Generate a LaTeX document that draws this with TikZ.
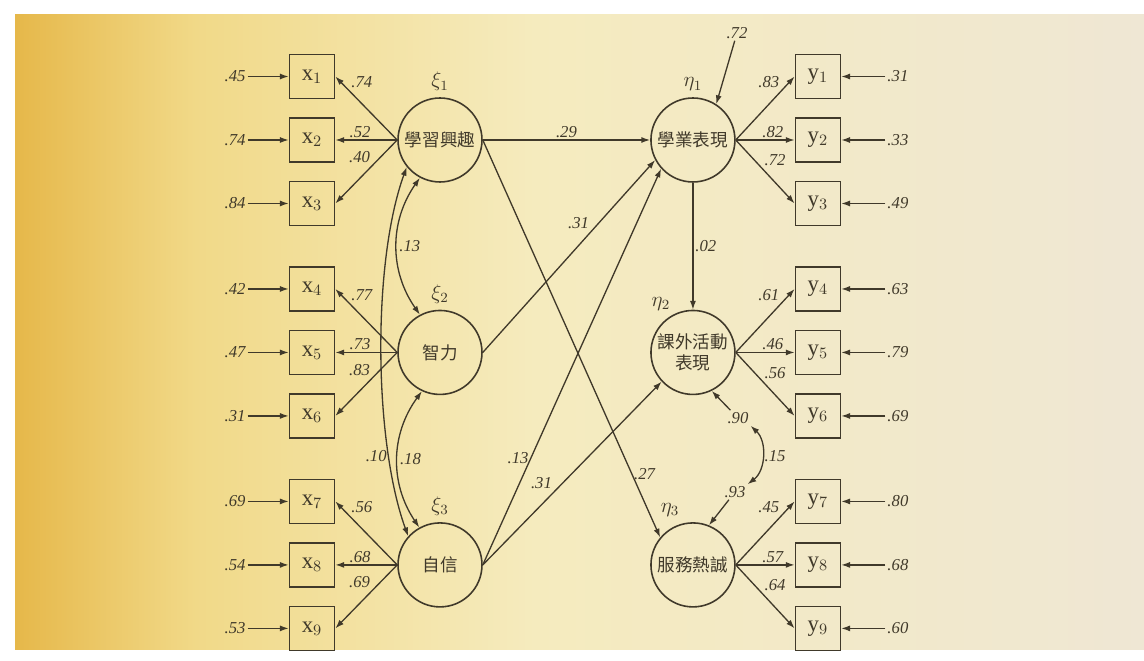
\documentclass[tikz,border=0pt]{standalone}
\usepackage{fontspec}
\setmainfont{Liberation Serif}
\newfontfamily\cjk{Noto Sans CJK TC}
\usepackage{tikz}
\usetikzlibrary{positioning}
\usetikzlibrary{arrows.meta}
\usetikzlibrary{calc}

\definecolor{ink}{HTML}{40392A}
\definecolor{paperL}{HTML}{E6B84A}
\definecolor{paperA}{HTML}{F1D988}
\definecolor{paperM}{HTML}{F5EBBE}
\definecolor{paperR}{HTML}{EFE7D4}
\pgfdeclarehorizontalshading{paper}{100bp}{color(0bp)=(paperL); color(25bp)=(paperL); color(33bp)=(paperA); color(48bp)=(paperM); color(75bp)=(paperR); color(100bp)=(paperR)}

\tikzset{
  latent/.style={circle,draw=ink,line width=0.9pt,minimum size=1.68cm,inner sep=0pt,align=center,
    text=ink,font=\cjk\fontsize{10}{12}\selectfont},
  obs/.style={rectangle,draw=ink,line width=0.9pt,minimum width=0.9cm,minimum height=0.88cm,inner sep=0pt,
    text=ink,font=\fontsize{13}{14}\selectfont},
  coef/.style={inner sep=1pt,text=ink,font=\itshape\fontsize{9.5}{10}\selectfont},
  conn/.style={draw=ink,line width=0.75pt,-{Latex[length=5pt,width=3.4pt]}},
  both/.style={draw=ink,line width=0.75pt,{Latex[length=5pt,width=3.4pt]}-{Latex[length=5pt,width=3.4pt]}},
  greek/.style={label distance=0pt,text=ink,font=\fontsize{12}{13}\selectfont}
}

\begin{document}
\begin{tikzpicture}[x=0.02cm, y=-0.02cm, node distance=1.27cm and 2.56cm, on grid]
\useasboundingbox (0,0) rectangle (1144,661);
\fill[white] (0,0) rectangle (1144,661);
\shade[shading=paper] (15,15) rectangle (1144,650);

\node[latent,label={[greek]above:$\xi_1$}] (xi1) at (440,140) {學習興趣};
\node[latent,below=4.25cm of xi1,label={[greek]above:$\xi_2$}] (xi2) {智力};
\node[latent,below=4.25cm of xi2,label={[greek]above:$\xi_3$}] (xi3) {自信};
\node[latent,right=5.06cm of xi1,label={[greek]above:$\eta_1$}] (eta1) {學業表現};
\node[latent,below=4.25cm of eta1,label={[greek,label distance=-2pt]115:$\eta_2$}] (eta2) {課外活動\\表現};
\node[latent,below=4.25cm of eta2,label={[greek]100:$\eta_3$}] (eta3) {服務熱誠};

\node[obs,left=of xi1] (x2) {$\mathrm{x}_2$};
\node[obs,above=of x2] (x1) {$\mathrm{x}_1$};
\node[obs,below=of x2] (x3) {$\mathrm{x}_3$};
\node[obs,left=of xi2] (x5) {$\mathrm{x}_5$};
\node[obs,above=of x5] (x4) {$\mathrm{x}_4$};
\node[obs,below=of x5] (x6) {$\mathrm{x}_6$};
\node[obs,left=of xi3] (x8) {$\mathrm{x}_8$};
\node[obs,above=of x8] (x7) {$\mathrm{x}_7$};
\node[obs,below=of x8] (x9) {$\mathrm{x}_9$};

\node[obs,right=2.5cm of eta1] (y2) {$\mathrm{y}_2$};
\node[obs,above=of y2] (y1) {$\mathrm{y}_1$};
\node[obs,below=of y2] (y3) {$\mathrm{y}_3$};
\node[obs,right=2.5cm of eta2] (y5) {$\mathrm{y}_5$};
\node[obs,above=of y5] (y4) {$\mathrm{y}_4$};
\node[obs,below=of y5] (y6) {$\mathrm{y}_6$};
\node[obs,right=2.5cm of eta3] (y8) {$\mathrm{y}_8$};
\node[obs,above=of y8] (y7) {$\mathrm{y}_7$};
\node[obs,below=of y8] (y9) {$\mathrm{y}_9$};

\node[coef,left=1.54cm of x1] (ex1) {.45};
\node[coef,left=1.54cm of x2] (ex2) {.74};
\node[coef,left=1.54cm of x3] (ex3) {.84};
\node[coef,left=1.54cm of x4] (ex4) {.42};
\node[coef,left=1.54cm of x5] (ex5) {.47};
\node[coef,left=1.54cm of x6] (ex6) {.31};
\node[coef,left=1.54cm of x7] (ex7) {.69};
\node[coef,left=1.54cm of x8] (ex8) {.54};
\node[coef,left=1.54cm of x9] (ex9) {.53};
\node[coef,right=1.6cm of y1] (ey1) {.31};
\node[coef,right=1.6cm of y2] (ey2) {.33};
\node[coef,right=1.6cm of y3] (ey3) {.49};
\node[coef,right=1.6cm of y4] (ey4) {.63};
\node[coef,right=1.6cm of y5] (ey5) {.79};
\node[coef,right=1.6cm of y6] (ey6) {.69};
\node[coef,right=1.6cm of y7] (ey7) {.80};
\node[coef,right=1.6cm of y8] (ey8) {.68};
\node[coef,right=1.6cm of y9] (ey9) {.60};

\node[coef] (d1) at (737,33) {.72};
\node[coef] (d2) at (738,418) {.90};
\node[coef] (d3) at (735,492) {.93};

\draw[conn] (ex1) -- (x1);
\draw[conn] (ex2) -- (x2);
\draw[conn] (ex3) -- (x3);
\draw[conn] (ex4) -- (x4);
\draw[conn] (ex5) -- (x5);
\draw[conn] (ex6) -- (x6);
\draw[conn] (ex7) -- (x7);
\draw[conn] (ex8) -- (x8);
\draw[conn] (ex9) -- (x9);
\draw[conn] (ey1) -- (y1);
\draw[conn] (ey2) -- (y2);
\draw[conn] (ey3) -- (y3);
\draw[conn] (ey4) -- (y4);
\draw[conn] (ey5) -- (y5);
\draw[conn] (ey6) -- (y6);
\draw[conn] (ey7) -- (y7);
\draw[conn] (ey8) -- (y8);
\draw[conn] (ey9) -- (y9);

\draw[conn] (xi1.west) -- node[coef,pos=0.78,above right] {.74} (x1.east);
\draw[conn] (xi1.west) -- node[coef,pos=0.6,above] {.52} (x2.east);
\draw[conn] (xi1.west) -- node[coef,pos=0.4,above left] {.40} (x3.east);
\draw[conn] (xi2.west) -- node[coef,pos=0.78,above right] {.77} (x4.east);
\draw[conn] (xi2.west) -- node[coef,pos=0.6,above] {.73} (x5.east);
\draw[conn] (xi2.west) -- node[coef,pos=0.4,above left] {.83} (x6.east);
\draw[conn] (xi3.west) -- node[coef,pos=0.78,above right] {.56} (x7.east);
\draw[conn] (xi3.west) -- node[coef,pos=0.6,above] {.68} (x8.east);
\draw[conn] (xi3.west) -- node[coef,pos=0.4,above left] {.69} (x9.east);

\draw[conn] (eta1.east) -- node[coef,pos=0.78,above left] {.83} (y1.west);
\draw[conn] (eta1.east) -- node[coef,pos=0.63,above] {.82} (y2.west);
\draw[conn] (eta1.east) -- node[coef,pos=0.45,above right] {.72} (y3.west);
\draw[conn] (eta2.east) -- node[coef,pos=0.78,above left] {.61} (y4.west);
\draw[conn] (eta2.east) -- node[coef,pos=0.63,above] {.46} (y5.west);
\draw[conn] (eta2.east) -- node[coef,pos=0.45,above right] {.56} (y6.west);
\draw[conn] (eta3.east) -- node[coef,pos=0.78,above left] {.45} (y7.west);
\draw[conn] (eta3.east) -- node[coef,pos=0.63,above] {.57} (y8.west);
\draw[conn] (eta3.east) -- node[coef,pos=0.45,above right] {.64} (y9.west);

\draw[conn] (xi1.east) -- node[coef,above] {.29} (eta1.west);
\draw[conn] (xi1.east) -- node[coef,pos=0.84,right] {.27} (eta3.140);
\draw[conn] (xi2.east) -- node[coef,pos=0.63,above left] {.31} (eta1.208);
\draw[conn] (xi3.east) -- node[coef,pos=0.27,left] {.13} (eta1.222);
\draw[conn] (xi3.east) -- node[coef,pos=0.4,above left] {.31} (eta2.223);
\draw[conn] (eta1) -- node[coef,right] {.02} (eta2);
\draw[conn] (d1) -- (eta1.57);
\draw[conn] (d2) -- (eta2.296);
\draw[conn] (d3) -- (eta3.68);

\draw[both] (xi1.242) to[bend right=35] node[coef,right] {.13} (xi2.118);
\draw[both] (xi2.245) to[bend right=35] node[coef,right] {.18} (xi3.119);
\draw[both] (xi1.219) to[out=250,in=110,looseness=0.7] node[coef,pos=0.76,left] {.10} (xi3.138);
\draw[both] (d2.south east) to[bend left=50] node[coef,right] {.15} (d3.north east);
\end{tikzpicture}
\end{document}
